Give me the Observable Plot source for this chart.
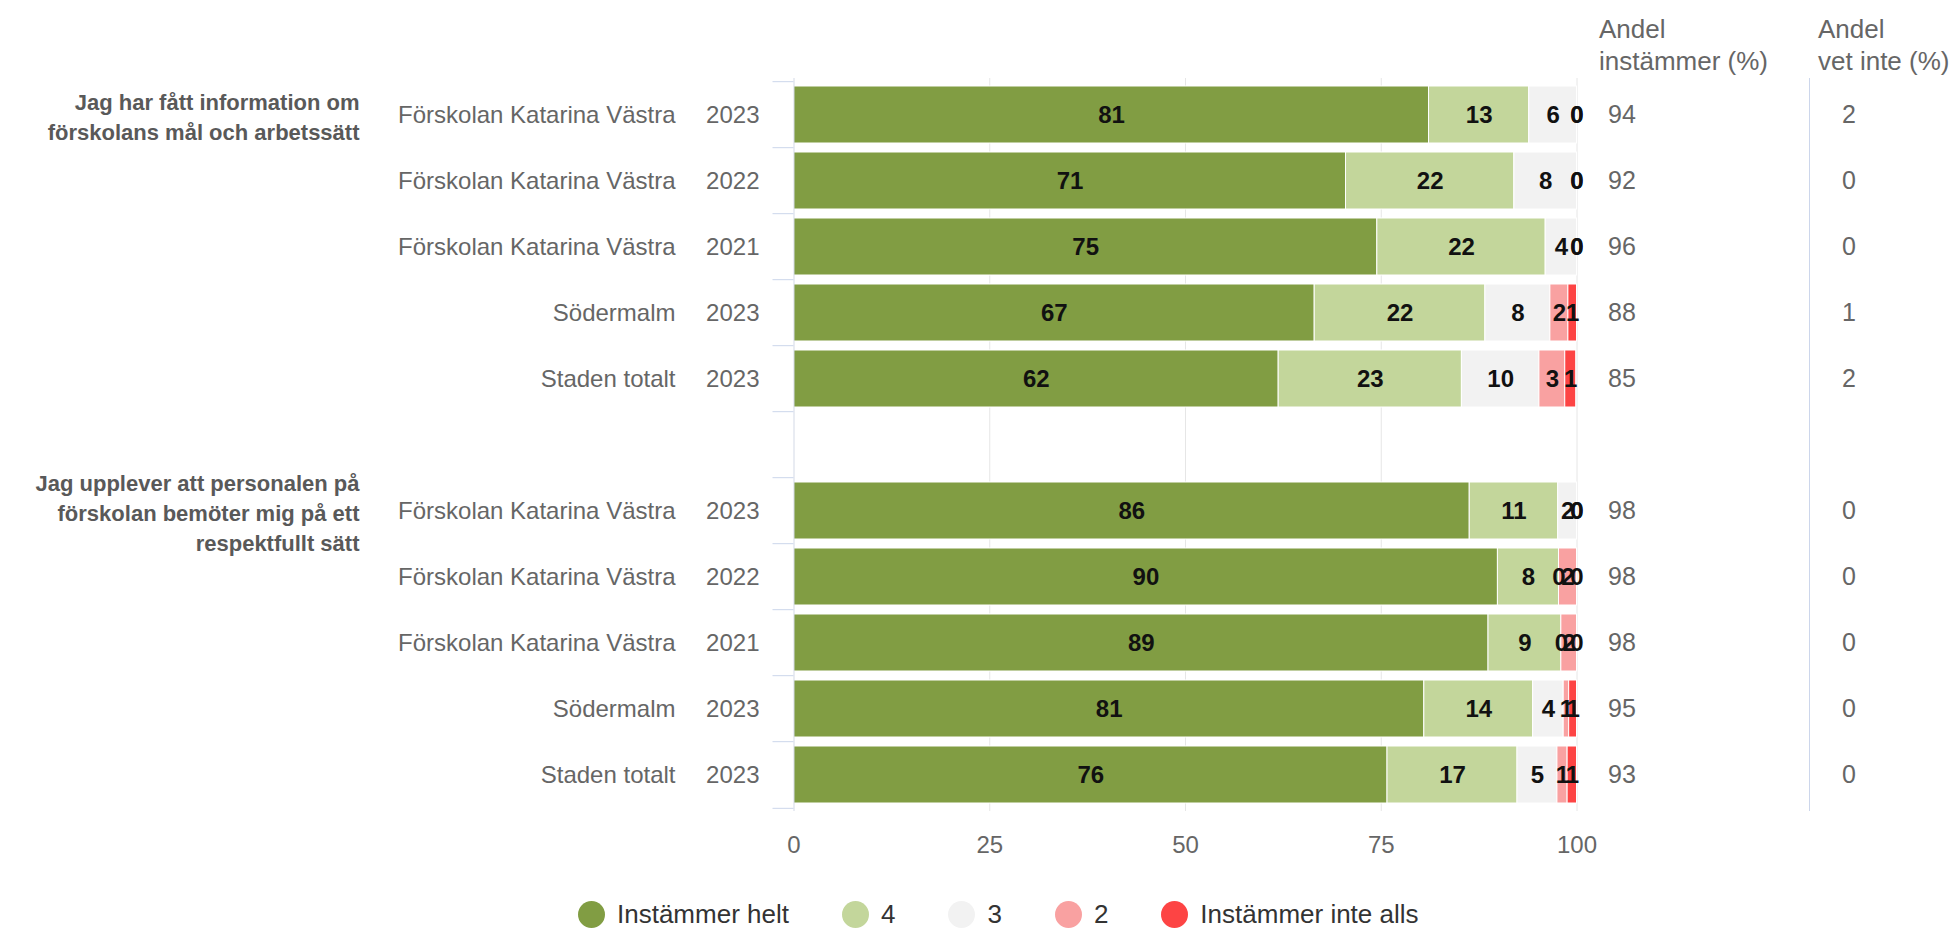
<!DOCTYPE html>
<html><head><meta charset="utf-8">
<script src="https://cdn.jsdelivr.net/npm/d3@7"></script>
<script src="https://cdn.jsdelivr.net/npm/@observablehq/plot@0.6"></script>
<style>
html,body{margin:0;padding:0;background:#fff;overflow:hidden;}
body{width:1955px;height:928px;position:relative;font-family:"Liberation Sans",Arial,sans-serif;}
#chart svg{display:block;}
#legend{position:absolute;left:578px;top:900px;display:flex;align-items:center;height:28px;font-size:26px;color:#333;white-space:nowrap;}
.item{display:flex;align-items:center;margin-right:53px;line-height:28px;}
.sw{width:27px;height:27px;border-radius:50%;margin-right:12px;flex:none;}
</style></head><body>
<div id="chart"></div><div id="legend"></div>
<script>
// ---- data ----
const categories = ["Instämmer helt", "4", "3", "2", "Instämmer inte alls"];
const colors = ["#819d43", "#c3d69b", "#f2f2f2", "#f9a1a1", "#fd4444"];
const questions = [
  "Jag har fått information om\nförskolans mål och arbetssätt",
  "Jag upplever att personalen på\nförskolan bemöter mig på ett\nrespektfullt sätt"
];
const units = ["Förskolan Katarina Västra", "Förskolan Katarina Västra", "Förskolan Katarina Västra", "Södermalm", "Staden totalt"];
const years = ["2023", "2022", "2021", "2023", "2023"];
const q1Values = [
  [81.1, 12.8, 6.1, 0, 0],
  [70.5, 21.5, 8.0, 0, 0],
  [74.5, 21.5, 4.0, 0, 0],
  [66.5, 21.8, 8.3, 2.3, 1.1],
  [61.9, 23.4, 9.9, 3.3, 1.4]
];
const q2Values = [
  [86.3, 11.3, 2.4, 0, 0],
  [89.9, 7.8, 0, 2.3, 0],
  [88.7, 9.3, 0, 2.0, 0],
  [80.5, 13.9, 3.9, 0.7, 1.0],
  [75.8, 16.6, 5.1, 1.3, 1.2]
];
const q1Andel = [94, 92, 96, 88, 85];
const q1VetInte = [2, 0, 0, 1, 2];
const q2Andel = [98, 98, 98, 95, 93];
const q2VetInte = [0, 0, 0, 0, 0];
const xTicks = [0, 25, 50, 75, 100];
const headerInstammer = "Andel\ninstämmer (%)";
const headerVetInte = "Andel\nvet inte (%)";

// ---- build tables ----
const groups = [
  {q: questions[0], values: q1Values, andel: q1Andel, vet: q1VetInte},
  {q: questions[1], values: q2Values, andel: q2Andel, vet: q2VetInte}
];
const yDomain = [];
const rows = [];
const segments = [];
groups.forEach((g, gi) => {
  if (gi > 0) yDomain.push("gap" + gi);
  g.values.forEach((vals, ri) => {
    const key = `q${gi}-${ri}`;
    yDomain.push(key);
    rows.push({key, unit: units[ri], year: years[ri], andel: g.andel[ri], vet: g.vet[ri], question: ri === 0 ? g.q : null});
    vals.forEach((v, ci) => segments.push({key, cat: categories[ci], value: v}));
  });
});

// ---- layout ----
const W = 1955, H = 880, mt = 78, mb = 69, ml = 793.5, mr = 378.5;
const step = (H - mt - mb) / yDomain.length;
const font = '"Liberation Sans", Arial, sans-serif';

const chart = Plot.plot({
  width: W, height: H,
  marginTop: mt, marginBottom: mb, marginLeft: ml, marginRight: mr,
  style: {fontFamily: font, background: "white", overflow: "visible"},
  x: {domain: [0, 100], axis: null, label: null},
  y: {domain: yDomain, paddingInner: 0.13, paddingOuter: 0.065, axis: null, label: null},
  color: {domain: categories, range: colors},
  marks: [
    Plot.gridX(xTicks.slice(1), {stroke: "#e6e6e6", strokeOpacity: 1}),
    Plot.barX(segments, Plot.stackX({x: "value", y: "key", fill: "cat", stroke: "white", strokeWidth: 1})),
    Plot.ruleX([0], {stroke: "#d3d9e6", strokeOpacity: 1}),
    Plot.axisY({ticks: yDomain, tickSize: 21, tickFormat: () => "", label: null, stroke: "#ccd6eb", strokeOpacity: 1, dy: -step / 2}),
    Plot.axisY({ticks: [yDomain[yDomain.length - 1]], tickSize: 21, tickFormat: () => "", label: null, stroke: "#ccd6eb", strokeOpacity: 1, dy: step / 2}),
    Plot.axisX({ticks: xTicks, tickSize: 0, tickPadding: 24, fontSize: 24, fill: "#666", label: null, tickFormat: d => String(d)}),
    Plot.text(segments, Plot.stackX({x: "value", y: "key", text: d => String(Math.round(d.value)), fontWeight: "bold", fontSize: 24, fill: "#111"})),
    Plot.text(rows, {y: "key", text: "unit", frameAnchor: "left", dx: -118.5, textAnchor: "end", fontSize: 24, fill: "#666"}),
    Plot.text(rows, {y: "key", text: "year", frameAnchor: "left", dx: -34.5, textAnchor: "end", fontSize: 24, fill: "#666"}),
    Plot.text(rows.filter(r => r.question), {y: "key", text: "question", frameAnchor: "left", dx: -434.5, textAnchor: "end", lineAnchor: "middle", lineHeight: 1.37, fontSize: 22, fontWeight: "bold", fill: "#595959"}),
    Plot.ruleX([100], {dx: 232.5, stroke: "#ccd6eb", strokeOpacity: 1}),
    Plot.text(rows, {y: "key", text: d => String(d.andel), frameAnchor: "right", dx: 31, textAnchor: "start", fontSize: 25, fill: "#666"}),
    Plot.text(rows, {y: "key", text: d => String(d.vet), frameAnchor: "right", dx: 265, textAnchor: "start", fontSize: 25, fill: "#666"}),
    Plot.text([headerInstammer], {text: d => d, frameAnchor: "top-right", dx: 22, dy: -63.5, textAnchor: "start", lineAnchor: "top", lineHeight: 1.23, fontSize: 26, fill: "#666"}),
    Plot.text([headerVetInte], {text: d => d, frameAnchor: "top-right", dx: 241, dy: -63.5, textAnchor: "start", lineAnchor: "top", lineHeight: 1.23, fontSize: 26, fill: "#666"})
  ]
});
document.getElementById("chart").appendChild(chart);

// ---- legend ----
const legend = document.getElementById("legend");
categories.forEach((c, i) => {
  const item = document.createElement("div");
  item.className = "item";
  const sw = document.createElement("span");
  sw.className = "sw";
  sw.style.background = colors[i];
  const label = document.createElement("span");
  label.textContent = c;
  item.appendChild(sw);
  item.appendChild(label);
  legend.appendChild(item);
});
</script>
</body></html>
